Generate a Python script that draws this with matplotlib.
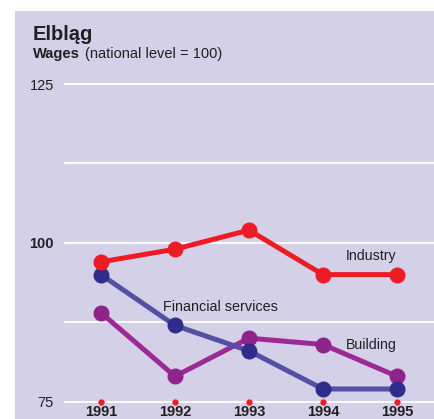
import matplotlib
matplotlib.use('Agg')
import matplotlib.pyplot as plt
from matplotlib.patches import Rectangle

plt.rcParams['font.family'] = ['Liberation Sans', 'DejaVu Sans']

years = [1991, 1992, 1993, 1994, 1995]
industry = [97, 99, 102, 95, 95]
financial = [95, 87, 83, 77, 77]
building = [89, 79, 85, 84, 79]
yticks = [75, 100, 125]
grid_levels = [75, 87.5, 100, 112.5, 125]

BG = '#d3d0e8'
TXT = '#231f20'

W, H = 434, 419
fig = plt.figure(figsize=(W / 100, H / 100), dpi=100)
fig.patch.set_facecolor('white')
fig.patches.append(Rectangle((15 / W, 0), 1, 1 - 11 / H, transform=fig.transFigure,
                             facecolor=BG, edgecolor='none', zorder=-10))

ax = fig.add_axes([65 / W, 17.3 / H, 1 - 65 / W, (401.7 - 84) / H])
ax.set_facecolor('none')
ax.set_xlim(1990.514, 1995.5)
ax.set_ylim(75, 125)
for s in ax.spines.values():
    s.set_visible(False)

for g in grid_levels:
    ax.axhline(g, color='white', lw=1.3, zorder=1, clip_on=False)

# (values, line colour, marker colour)
series = [
    (building, '#9c2a94', '#8e238a'),
    (financial, '#5450a4', '#2f2c8c'),
    (industry, '#ed1c24', '#ed1c24'),
]
for vals, lc, mc in series:
    ax.plot(years, vals, color=lc, lw=3.6, zorder=3, solid_capstyle='round', clip_on=False)
    ax.plot(years, vals, 'o', color=mc, ms=10.5, zorder=4, clip_on=False)

ax.plot(years, [75] * 5, 'o', color='#ed1c24', ms=3.5, zorder=5, clip_on=False)

ax.text(1994.65, 96.8, 'Industry', fontsize=10.2, color=TXT, ha='center', va='bottom')
ax.text(1992.62, 88.8, 'Financial services', fontsize=10.4, color=TXT, ha='center', va='bottom')
ax.text(1994.65, 82.9, 'Building', fontsize=10.2, color=TXT, ha='center', va='bottom')

ax.set_xticks(years)
ax.set_xticklabels([str(y) for y in years], fontsize=10.5, fontweight='bold', color=TXT)
ax.set_yticks(yticks)
ax.set_yticklabels([str(v) for v in yticks], fontsize=10.5, color=TXT)
ax.get_yticklabels()[1].set_fontweight('bold')
ax.tick_params(axis='both', length=0)
ax.tick_params(axis='x', pad=2.2)
ax.tick_params(axis='y', pad=8)

fig.text(33 / W, 1 - 34 / H, 'Elbląg', fontsize=14.5, fontweight='bold', color=TXT, va='center')
fig.text(33 / W, 1 - 54 / H, 'Wages', fontsize=10.5, fontweight='bold', color=TXT, va='center')
fig.text(85 / W, 1 - 54 / H, '(national level = 100)', fontsize=10.5, color=TXT, va='center')

fig.savefig('out.png', dpi=100, facecolor=fig.get_facecolor())
